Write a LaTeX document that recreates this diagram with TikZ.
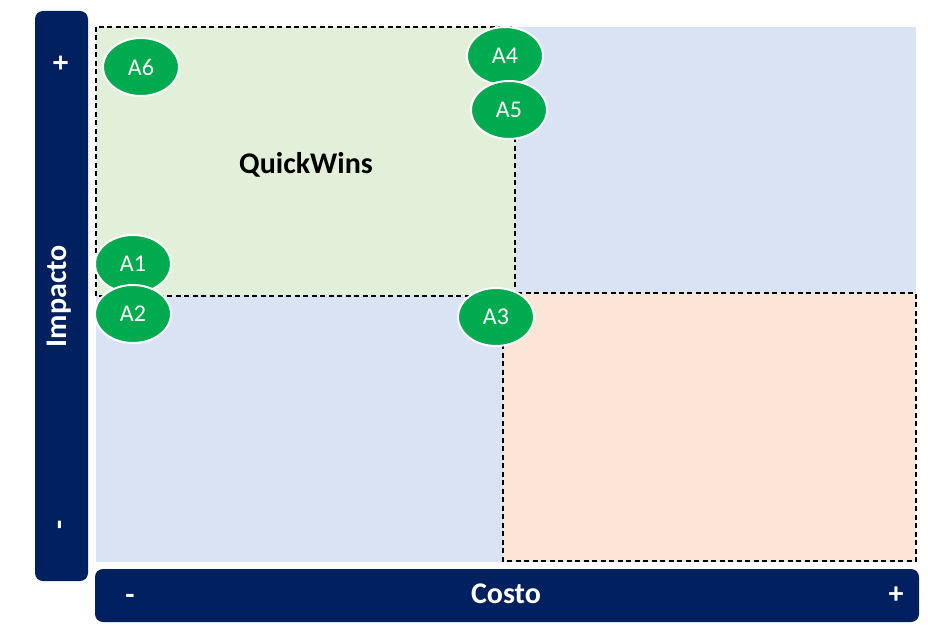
\documentclass[tikz,border=0pt]{standalone}
\usepackage{fontspec}
\setmainfont{Carlito}
\usetikzlibrary{shapes.geometric}
\definecolor{navy}{RGB}{0,32,96}
\definecolor{qblue}{RGB}{218,227,243}
\definecolor{qgreen}{RGB}{226,240,217}
\definecolor{qorange}{RGB}{251,229,214}
\definecolor{dotgreen}{RGB}{0,170,78}
\tikzset{
  axisbar/.style={fill=navy, draw=none, rounded corners=8pt},
  axistext/.style={text=white, font=\fontsize{30}{30}\selectfont\bfseries, inner sep=0pt},
  zone/.style={draw=black, line width=1.3pt, dash pattern=on 5pt off 3.5pt},
  item/.style={ellipse, fill=dotgreen, draw=white, line width=2pt, minimum width=76pt, minimum height=58pt,
    text=white, font=\fontsize{24}{24}\selectfont, inner sep=0pt},
}
\begin{document}
\begin{tikzpicture}[x=1pt,y=-1pt]
\useasboundingbox (0,0) rectangle (928,631);
\fill[white] (0,0) rectangle (928,631);
% quadrant backgrounds
\fill[qblue] (96,27) rectangle (916,562);
\fill[qgreen] (96,27) rectangle (515,296);
\fill[qorange] (503,293) rectangle (916,561);
% highlighted zones
\draw[zone] (96,27) rectangle (515,296);
\draw[zone] (503,293) rectangle (916,561);
% axes
\fill[axisbar] (35,11) rectangle (88,581);
\fill[axisbar] (95,569) rectangle (919,622);
\node[axistext, rotate=90] (yplus) at (62,63) {+};
\node[axistext, rotate=90] (yminus) at (63,525) {-};
\node[axistext, rotate=90] (ylabel) at (59,296) {Impacto};
\node[axistext] (xminus) at (130,599) {-};
\node[axistext] (xlabel) at (506,594) {Costo};
\node[axistext] (xplus) at (896,595) {+};
% quadrant title
\node[font=\fontsize{30}{30}\selectfont\bfseries, inner sep=0pt] (qw) at (306,165) {QuickWins};
% actions
\node[item] (a6) at (141,67) {A6};
\node[item] (a4) at (505,56) {A4};
\node[item] (a5) at (509,110) {A5};
\node[item] (a1) at (133,264) {A1};
\node[item] (a2) at (133,314) {A2};
\node[item] (a3) at (496,317) {A3};
\end{tikzpicture}
\end{document}
